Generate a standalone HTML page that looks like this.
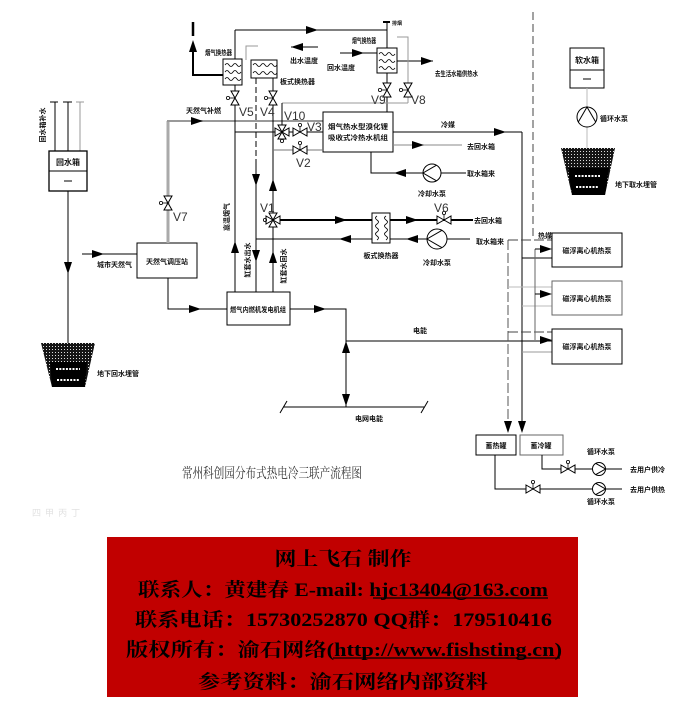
<!DOCTYPE html>
<html><head><meta charset="utf-8"><style>
html,body{margin:0;padding:0;background:#fff;}
svg{display:block;}
.l{font-family:"Noto Sans CJK SC","WenQuanYi Zen Hei",sans-serif;font-size:8px;font-weight:bold;fill:#111;}
.s{font-family:"Noto Sans CJK SC","WenQuanYi Zen Hei",sans-serif;font-size:7px;font-weight:bold;fill:#111;}
.v{font-family:"Liberation Sans",sans-serif;font-size:12px;fill:#333;}
.r{font-family:"Liberation Serif","Noto Serif CJK SC",serif;font-size:19px;font-weight:bold;fill:#000;}
</style></head><body>
<svg width="688" height="716" viewBox="0 0 688 716" xmlns="http://www.w3.org/2000/svg">
<defs>
<pattern id="dots" width="3" height="3" patternUnits="userSpaceOnUse"><rect width="3" height="3" fill="#151515"/><rect x="1" y="1" width="1" height="1" fill="#ddd"/></pattern>
<g id="vh"><path d="M-7,-4 L7,4 L7,-4 L-7,4 Z" fill="#fff" stroke="#000" stroke-width="1"/><line x1="0" y1="0" x2="0" y2="-5" stroke="#000" stroke-width=".8"/><circle cx="0" cy="-7" r="1.6" fill="none" stroke="#000" stroke-width=".8"/></g>
<g id="vv"><path d="M-4,-7 L4,7 L-4,7 L4,-7 Z" fill="#fff" stroke="#000" stroke-width="1"/><line x1="0" y1="0" x2="-5" y2="0" stroke="#000" stroke-width=".8"/><circle cx="-7" cy="0" r="1.6" fill="none" stroke="#000" stroke-width=".8"/></g>
<path id="ar" d="M-6,-4 L6,0 L-6,4 Z" fill="#000"/>
</defs>
<rect width="688" height="716" fill="#fff"/>

<g stroke="#000" stroke-width="1" fill="none">
<!-- left 回水箱 -->
<line x1="55" y1="102" x2="55" y2="151"/>
<line x1="68" y1="102" x2="68" y2="151"/>
<line x1="80" y1="102" x2="80" y2="151" stroke="#999"/>
<line x1="50" y1="102" x2="58" y2="102"/><line x1="63" y1="102" x2="72" y2="102"/><line x1="76" y1="102" x2="84" y2="102" stroke="#999"/>
<rect x="49" y="151" width="38" height="40" stroke-width="1.3"/>
<line x1="49" y1="171" x2="87" y2="171"/>
<line x1="64" y1="181" x2="72" y2="181"/>
<line x1="68" y1="191" x2="68" y2="343"/>

<!-- 天然气调压站 -->
<rect x="137" y="243" width="60" height="35"/>
<line x1="82" y1="254" x2="137" y2="254"/>
<line x1="168" y1="243" x2="168" y2="121" stroke="#aaa" stroke-width="3"/>
<line x1="167" y1="121" x2="323" y2="121" stroke="#999" stroke-width="2"/>
<polyline points="168,278 168,309 227,309"/>

<!-- 内燃机 -->
<rect x="227" y="292" width="63" height="33"/>
<polyline points="290,309 346,309 346,407"/>
<line x1="346" y1="341" x2="552" y2="341"/>
<line x1="283" y1="407" x2="424" y2="407"/>
<line x1="280" y1="413" x2="287" y2="401"/>
<line x1="421" y1="413" x2="428" y2="401"/>

<!-- verticals from engine -->
<line x1="235" y1="30" x2="235" y2="292"/>
<line x1="256" y1="78" x2="256" y2="165" stroke-dasharray="6,3"/>
<line x1="256" y1="165" x2="256" y2="292"/>
<line x1="273" y1="78" x2="273" y2="292"/>

<!-- top exchangers -->
<rect x="223" y="59" width="19" height="26" fill="#fff"/>
<path d="M225,65 q2,-3 4,0 t4,0 t4,0 t4,0 M225,72 q2,-3 4,0 t4,0 t4,0 t4,0 M225,79 q2,-3 4,0 t4,0 t4,0 t4,0" stroke-width=".8"/>
<polyline points="223,75 193,75 193,52" stroke-width="2"/>
<line x1="193" y1="22" x2="193" y2="36" stroke-width="2.5"/>
<line x1="235" y1="30" x2="387" y2="30"/>
<rect x="251" y="60" width="26" height="18" fill="#fff"/>
<path d="M253,65 q2,-3 4,0 t4,0 t4,0 t4,0 t4,0 t4,0 M253,73 q2,-3 4,0 t4,0 t4,0 t4,0 t4,0 t4,0" stroke-width=".8"/>
<polyline points="246,60 246,46 258,46" stroke="#999"/>
<line x1="291" y1="47" x2="318" y2="47"/>
<line x1="340" y1="53" x2="377" y2="53"/>

<rect x="377" y="48" width="20" height="25" fill="#fff"/>
<path d="M379,54 q2,-3 4,0 t4,0 t4,0 t4,0 M379,61 q2,-3 4,0 t4,0 t4,0 t4,0 M379,68 q2,-3 4,0 t4,0 t4,0 t4,0" stroke-width=".8"/>
<line x1="387" y1="22" x2="387" y2="48"/>
<line x1="383" y1="22" x2="390" y2="22" stroke-width="2"/>
<line x1="397" y1="61" x2="433" y2="61"/>
<polyline points="397,37 408,37 408,103" stroke="#999"/>
<line x1="387" y1="73" x2="387" y2="112"/>
<line x1="282" y1="103" x2="408" y2="103" stroke="#999"/>
<line x1="282" y1="103" x2="282" y2="132"/>

<!-- 溴化锂 box -->
<rect x="323" y="112" width="70" height="40"/>
<line x1="235" y1="132" x2="323" y2="132"/>
<line x1="273" y1="150" x2="323" y2="150" stroke="#777"/>
<line x1="393" y1="132" x2="522" y2="132"/>
<line x1="393" y1="145" x2="462" y2="145" stroke="#888"/>
<polyline points="371,152 371,173 423,173"/>
<line x1="441" y1="173" x2="466" y2="173"/>

<!-- cooling water loop -->
<line x1="273" y1="220" x2="473" y2="220" stroke-width="2"/>
<line x1="256" y1="239" x2="427" y2="239"/>
<line x1="447" y1="239" x2="470" y2="239"/>
<rect x="372" y="213" width="18" height="30" fill="#fff"/>
<path d="M377,216 q-3,2 0,4 t0,4 t0,4 t0,4 t0,4 t0,4 M386,216 q-3,2 0,4 t0,4 t0,4 t0,4 t0,4 t0,4" stroke-width=".8"/>

<!-- right side -->
<line x1="533" y1="12" x2="533" y2="240" stroke-dasharray="8,4" stroke="#444"/>
<line x1="522" y1="132" x2="522" y2="425"/>
<line x1="508" y1="240" x2="508" y2="425" stroke-dasharray="10,3" stroke="#555"/>
<line x1="508" y1="240" x2="552" y2="240" stroke-dasharray="10,3" stroke="#444"/>
<line x1="522" y1="258" x2="552" y2="258"/>
<line x1="508" y1="287" x2="552" y2="287" stroke="#bbb"/>
<line x1="522" y1="306" x2="552" y2="306" stroke="#bbb"/>
<line x1="508" y1="332" x2="552" y2="332" stroke-dasharray="10,3" stroke="#444"/>
<line x1="522" y1="352" x2="552" y2="352" stroke="#999"/>
<line x1="535" y1="249" x2="535" y2="340" stroke="#666"/>
<line x1="535" y1="249" x2="541" y2="249"/>
<line x1="535" y1="294" x2="541" y2="294"/>
<rect x="552" y="233" width="70" height="34"/>
<rect x="552" y="281" width="70" height="34" stroke="#666"/>
<rect x="552" y="329" width="70" height="35"/>

<rect x="570" y="48" width="34" height="40"/>
<line x1="570" y1="70" x2="604" y2="70"/>
<line x1="583" y1="79" x2="591" y2="79"/>
<line x1="587" y1="88" x2="587" y2="148" stroke="#bbb"/>

<!-- bottom tanks -->
<rect x="476" y="435" width="40" height="20"/>
<rect x="520" y="435" width="43" height="20" stroke="#666"/>
<polyline points="495,455 495,489 592,489"/>
<line x1="606" y1="489" x2="622" y2="489"/>
<polyline points="542,455 542,469 592,469"/>
<line x1="606" y1="469" x2="622" y2="469"/>
</g>

<!-- tanks hatched -->
<path d="M41,343 L95,343 L85,387 L52,387 Z" fill="url(#dots)"/>
<path d="M50,362 L87,362 L85,387 L52,387 Z" fill="#000"/>
<line x1="56" y1="369" x2="80" y2="369" stroke="#fff" stroke-width="2" stroke-dasharray="2,1.3"/>
<line x1="57" y1="380" x2="79" y2="380" stroke="#fff" stroke-width="2" stroke-dasharray="2,1.3"/>
<path d="M561,148 L615,148 L605,195 L572,195 Z" fill="url(#dots)"/>
<path d="M568,168 L609,168 L605,195 L572,195 Z" fill="#000"/>
<line x1="575" y1="176" x2="600" y2="176" stroke="#fff" stroke-width="2" stroke-dasharray="2,1.3"/>
<line x1="576" y1="187" x2="599" y2="187" stroke="#fff" stroke-width="2" stroke-dasharray="2,1.3"/>

<!-- pumps -->
<g stroke="#000" stroke-width="1" fill="#fff">
<circle cx="432" cy="173" r="9"/>
<circle cx="437" cy="239" r="10"/>
<circle cx="587" cy="117" r="10"/>
<circle cx="599" cy="469" r="6.5"/>
<circle cx="599" cy="489" r="6.5"/>
</g>
<g stroke="#000" stroke-width="1" fill="none">
<polyline points="436.5,165.2 423,173 436.5,180.8"/>
<polyline points="442,230.3 427,239 442,247.7"/>
<polyline points="578.3,122 587,107 595.7,122"/>
<polyline points="595.8,463.4 605.5,469 595.8,474.6"/>
<polyline points="595.8,483.4 605.5,489 595.8,494.6"/>
</g>

<!-- valves -->
<use href="#vv" x="168" y="203"/>
<use href="#vv" x="235" y="98"/>
<use href="#vv" x="273" y="98"/>
<use href="#vv" x="387" y="90"/>
<use href="#vv" x="408" y="90"/>
<use href="#vh" x="300" y="132"/>
<use href="#vh" x="300" y="150"/>
<use href="#vh" x="444" y="220"/>
<use href="#vh" x="568" y="469"/>
<use href="#vh" x="533" y="489"/>
<g transform="translate(273,220)"><path d="M-4,-7 L4,7 L-4,7 L4,-7 Z M-7,-4 L7,4 L7,-4 L-7,4 Z" fill="#fff" stroke="#000" stroke-width="1"/><circle cx="-8" cy="0" r="1.6" fill="none" stroke="#000" stroke-width=".8"/></g>
<g transform="translate(282,132)"><path d="M-7,-4 L7,4 L7,-4 L-7,4 Z M-4,-7 L4,7 L-4,7 L4,-7 Z" fill="#fff" stroke="#000" stroke-width="1"/><circle cx="0" cy="9" r="1.6" fill="none" stroke="#000" stroke-width=".8"/></g>

<!-- arrows -->
<use href="#ar" transform="translate(68,268) rotate(90)"/>
<use href="#ar" transform="translate(98,254)"/>
<use href="#ar" transform="translate(197,121)"/>
<use href="#ar" transform="translate(195,309)"/>
<use href="#ar" transform="translate(320,309)"/>
<use href="#ar" transform="translate(346,347) rotate(-90)"/>
<use href="#ar" transform="translate(346,400) rotate(90)"/>
<use href="#ar" transform="translate(235,247) rotate(-90)"/>
<use href="#ar" transform="translate(256,180) rotate(90)"/>
<use href="#ar" transform="translate(256,256) rotate(90)"/>
<use href="#ar" transform="translate(273,185) rotate(-90)"/>
<use href="#ar" transform="translate(273,257) rotate(-90)"/>
<use href="#ar" transform="translate(193,46) rotate(-90)"/>
<use href="#ar" transform="translate(312,30)"/>
<use href="#ar" transform="translate(297,47) rotate(180)"/>
<use href="#ar" transform="translate(358,53)"/>
<use href="#ar" transform="translate(427,61)"/>
<use href="#ar" transform="translate(500,132)"/>
<use href="#ar" transform="translate(418,145)"/>
<use href="#ar" transform="translate(400,173) rotate(180)"/>
<use href="#ar" transform="translate(341,220)"/>
<use href="#ar" transform="translate(412,220)"/>
<use href="#ar" transform="translate(345,239) rotate(180)"/>
<use href="#ar" transform="translate(412,239) rotate(180)"/>
<use href="#ar" transform="translate(546,249)"/>
<use href="#ar" transform="translate(546,294)"/>
<use href="#ar" transform="translate(546,340)"/>
<use href="#ar" transform="translate(508,427) rotate(90)"/>
<use href="#ar" transform="translate(522,427) rotate(90)"/>

<!-- V labels -->
<text class="v" x="239" y="116">V5</text>
<text class="v" x="260" y="116">V4</text>
<text class="v" x="284" y="120">V10</text>
<text class="v" x="307" y="131">V3</text>
<text class="v" x="296" y="167">V2</text>
<text class="v" x="260" y="212">V1</text>
<text class="v" x="434" y="212">V6</text>
<text class="v" x="173" y="221">V7</text>
<text class="v" x="371" y="104">V9</text>
<text class="v" x="411" y="104">V8</text>

<!-- labels -->
<text class="s" transform="translate(45,125) rotate(-90)" text-anchor="middle">回水箱补水</text>
<text class="l" x="68" y="165" text-anchor="middle">回水箱</text>
<text class="s" x="97" y="376">地下回水埋管</text>
<text class="s" x="97" y="267">城市天然气</text>
<text class="s" x="186" y="113">天然气补燃</text>
<text class="s" x="167" y="264" text-anchor="middle">天然气调压站</text>
<text class="s" x="258" y="312" text-anchor="middle" textLength="56" lengthAdjust="spacingAndGlyphs">燃气内燃机发电机组</text>
<text class="s" transform="translate(229,217) rotate(-90)" text-anchor="middle">高温烟气</text>
<text class="s" transform="translate(250,260) rotate(-90)" text-anchor="middle">缸套水出水</text>
<text class="s" transform="translate(286,266) rotate(-90)" text-anchor="middle">缸套水回水</text>
<text class="s" x="413" y="333">电能</text>
<text class="s" x="355" y="421">电网电能</text>
<text class="s" x="205" y="55" textLength="27" lengthAdjust="spacingAndGlyphs">烟气换热器</text>
<text class="s" x="290" y="63">出水温度</text>
<text class="s" x="280" y="84">板式换热器</text>
<text class="s" x="327" y="70">回水温度</text>
<text class="s" x="352" y="43" textLength="24" lengthAdjust="spacingAndGlyphs">烟气换热器</text>
<text class="s" x="392" y="25" style="font-size:5px">排烟</text>
<text class="s" x="435" y="76" textLength="43" lengthAdjust="spacingAndGlyphs">去生活水箱供热水</text>
<text class="s" x="358" y="129" text-anchor="middle" textLength="60" lengthAdjust="spacingAndGlyphs">烟气热水型溴化锂</text>
<text class="s" x="358" y="140" text-anchor="middle" textLength="60" lengthAdjust="spacingAndGlyphs">吸收式冷热水机组</text>
<text class="s" x="441" y="127">冷媒</text>
<text class="s" x="467" y="149">去回水箱</text>
<text class="s" x="467" y="176">取水箱来</text>
<text class="s" x="432" y="196" text-anchor="middle">冷却水泵</text>
<text class="s" x="474" y="223">去回水箱</text>
<text class="s" x="476" y="244">取水箱来</text>
<text class="s" x="381" y="258" text-anchor="middle">板式换热器</text>
<text class="s" x="437" y="265" text-anchor="middle">冷却水泵</text>
<text class="l" x="587" y="63" text-anchor="middle">软水箱</text>
<text class="s" x="600" y="121">循环水泵</text>
<text class="s" x="615" y="187">地下取水埋管</text>
<text class="s" x="538" y="238">热媒</text>
<text class="s" x="587" y="253" text-anchor="middle">磁浮离心机热泵</text>
<text class="s" x="587" y="301" text-anchor="middle">磁浮离心机热泵</text>
<text class="s" x="587" y="349" text-anchor="middle">磁浮离心机热泵</text>
<text class="s" x="496" y="448" text-anchor="middle">蓄热罐</text>
<text class="s" x="541" y="448" text-anchor="middle">蓄冷罐</text>
<text class="s" x="601" y="454" text-anchor="middle">循环水泵</text>
<text class="s" x="601" y="504" text-anchor="middle">循环水泵</text>
<text class="s" x="630" y="472">去用户供冷</text>
<text class="s" x="630" y="492">去用户供热</text>

<text x="182" y="478" textLength="180" lengthAdjust="spacingAndGlyphs" style="font-family:'Noto Serif CJK SC',serif;font-size:14px;fill:#333">常州科创园分布式热电冷三联产流程图</text>

<text x="32" y="516" style="font-family:'Noto Sans CJK SC',sans-serif;font-size:9px;fill:#e2e2e2">四 &#160;甲 &#160;丙 &#160;丁</text>

<!-- red box -->
<rect x="107" y="537" width="471" height="160" fill="#c10000"/>
<text class="r" x="343" y="565" text-anchor="middle" textLength="137" lengthAdjust="spacingAndGlyphs">网上飞石 制作</text>
<text class="r" x="138" y="596" textLength="410" lengthAdjust="spacingAndGlyphs">联系人：黄建春 E-mail: hjc13404@163.com</text>
<line x1="373" y1="598" x2="548" y2="598" stroke="#000" stroke-width="1.2"/>
<text class="r" x="135" y="626" textLength="417" lengthAdjust="spacingAndGlyphs">联系电话：15730252870  QQ群：179510416</text>
<text class="r" x="126" y="656" textLength="436" lengthAdjust="spacingAndGlyphs">版权所有：渝石网络(http://www.fishsting.cn)</text>
<line x1="333" y1="658" x2="560" y2="658" stroke="#000" stroke-width="1.2"/>
<text class="r" x="198" y="688" textLength="290" lengthAdjust="spacingAndGlyphs">参考资料：渝石网络内部资料</text>
</svg>
</body></html>
